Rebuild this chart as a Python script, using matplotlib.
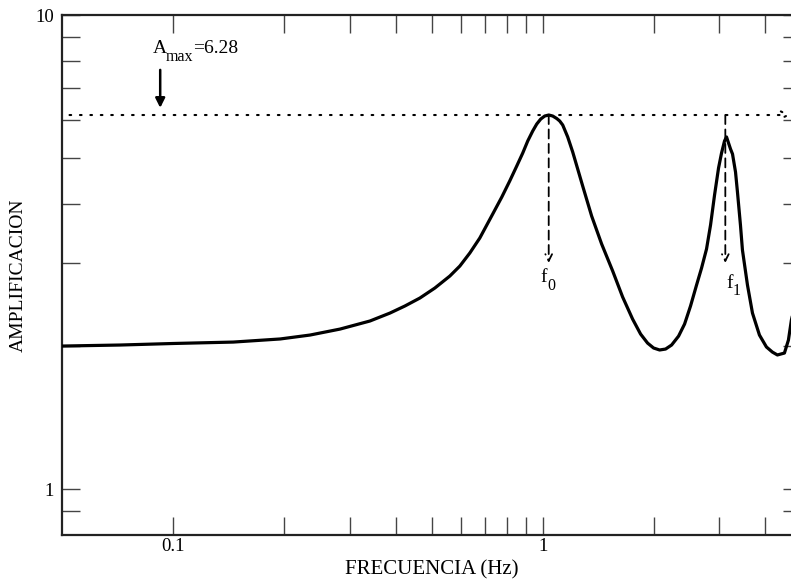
# Curva de amplificacion (log-log) con picos f0 y f1

import numpy as np
import matplotlib
matplotlib.use('Agg')
import matplotlib.pyplot as plt
from matplotlib.ticker import FixedLocator, NullFormatter, FixedFormatter

plt.rcParams['font.family'] = ['Liberation Serif', 'DejaVu Serif']

# valores
freq = [0.0501, 0.0719, 0.1, 0.1453, 0.1947, 0.2346, 0.2827, 0.3407, 0.386, 0.4236,
        0.4651, 0.5106, 0.5605, 0.5966, 0.635, 0.6756, 0.7323, 0.7748, 0.8142, 0.8505,
        0.8829, 0.9109, 0.9397, 0.9633, 0.9876, 1.0125, 1.0381, 1.0642, 1.091, 1.1115,
        1.1327, 1.1684, 1.2054, 1.2435, 1.2828, 1.3564, 1.4436, 1.5463, 1.6452, 1.7504,
        1.8402, 1.9219, 1.9953, 2.0718, 2.1502, 2.2324, 2.3317, 2.4204, 2.5119, 2.608,
        2.6904, 2.7752, 2.8456, 2.9174, 2.991, 3.0473, 3.1046, 3.1436, 3.183, 3.2228,
        3.2631, 3.3246, 3.3651, 3.4285, 3.4714, 3.5817, 3.695, 3.8593, 4.0309, 4.184,
        4.3164, 4.5094, 4.6231, 4.7098, 5.0]
ampl = [2.003, 2.013, 2.028, 2.042, 2.073, 2.113, 2.175, 2.262, 2.351, 2.433,
        2.529, 2.655, 2.814, 2.954, 3.148, 3.385, 3.804, 4.13, 4.466, 4.802,
        5.115, 5.424, 5.694, 5.888, 6.033, 6.122, 6.152, 6.122, 6.049, 5.976,
        5.86, 5.53, 5.14, 4.733, 4.357, 3.766, 3.288, 2.884, 2.542, 2.284,
        2.123, 2.032, 1.984, 1.965, 1.974, 2.013, 2.102, 2.229, 2.433, 2.694,
        2.925, 3.209, 3.606, 4.171, 4.756, 5.115, 5.424, 5.53, 5.37, 5.216,
        5.09, 4.665, 4.232, 3.606, 3.193, 2.694, 2.351, 2.113, 1.994, 1.945,
        1.918, 1.936, 2.062, 2.273, 2.76]

a_max = 6.152
f0 = 1.038
f1 = 3.12

x_major = [0.1, 1]
x_minor = [0.2, 0.3, 0.4, 0.5, 0.6, 0.7, 0.8, 0.9, 2, 3, 4]
y_major = [1, 10]
y_minor = [0.9, 2, 3, 4, 5, 6, 7, 8, 9]

W, H = 791, 581
fig = plt.figure(figsize=(W/100, H/100), dpi=100)
ax = fig.add_axes([62/W, 1 - 535/H, (801 - 62)/W, (535 - 15)/H])

ax.plot(freq, ampl, color='black', lw=2.3, solid_joinstyle='round', zorder=3)

ax.set_xscale('log')
ax.set_yscale('log')
ax.set_xlim(0.05, 5)
ax.set_ylim(0.8, 10)

# linea de amplificacion maxima
ax.annotate('', xy=(4.68, a_max), xytext=(0.0524, a_max),
            arrowprops=dict(arrowstyle='->', lw=1.5, linestyle=(0, (0.8, 4.2)),
                            color='black', shrinkA=0, shrinkB=0, mutation_scale=13))

# flechas de las frecuencias
for f in [f0, f1]:
    ax.annotate('', xy=(f, 3.0), xytext=(f, a_max),
                arrowprops=dict(arrowstyle='->', lw=1.3, linestyle=(0, (5, 3)),
                                color='black', shrinkA=0, shrinkB=0, mutation_scale=12))

# flecha A_max
ax.annotate('', xy=(0.0922, 6.37), xytext=(0.0922, 7.66),
            arrowprops=dict(arrowstyle='-|>', lw=1.8, color='black',
                            shrinkA=0, shrinkB=0, mutation_scale=14))


def ptext(x, y, s, size):
    fig.text(x/W, 1 - y/H, s, fontsize=size, ha='left', va='baseline')


ptext(153, 53, 'A', 14)
ptext(166, 61, 'max', 11.5)
ptext(193, 53, '=6.28', 14)
ptext(540, 282, 'f', 14)
ptext(547, 290, '0', 11.5)
ptext(726, 288, 'f', 14)
ptext(733, 295, '1', 11.5)

ax.xaxis.set_major_locator(FixedLocator(x_major))
ax.xaxis.set_major_formatter(FixedFormatter(['0.1', '1']))
ax.xaxis.set_minor_locator(FixedLocator(x_minor))
ax.xaxis.set_minor_formatter(NullFormatter())
ax.yaxis.set_major_locator(FixedLocator(y_major))
ax.yaxis.set_major_formatter(FixedFormatter(['1', '10']))
ax.yaxis.set_minor_locator(FixedLocator(y_minor))
ax.yaxis.set_minor_formatter(NullFormatter())

ax.tick_params(which='both', direction='in', top=True, right=True,
               length=13, width=1, color='#444444', labelsize=13.5)
ax.tick_params(axis='x', which='both', pad=2)
ax.tick_params(axis='y', which='both', pad=6)

for s in ax.spines.values():
    s.set_linewidth(1.6)
    s.set_color('#222222')

ax.set_xlabel('FRECUENCIA (Hz)', fontsize=15, labelpad=4)
ax.set_ylabel('AMPLIFICACION', fontsize=14, labelpad=6)

fig.savefig('out.png', dpi=100)
